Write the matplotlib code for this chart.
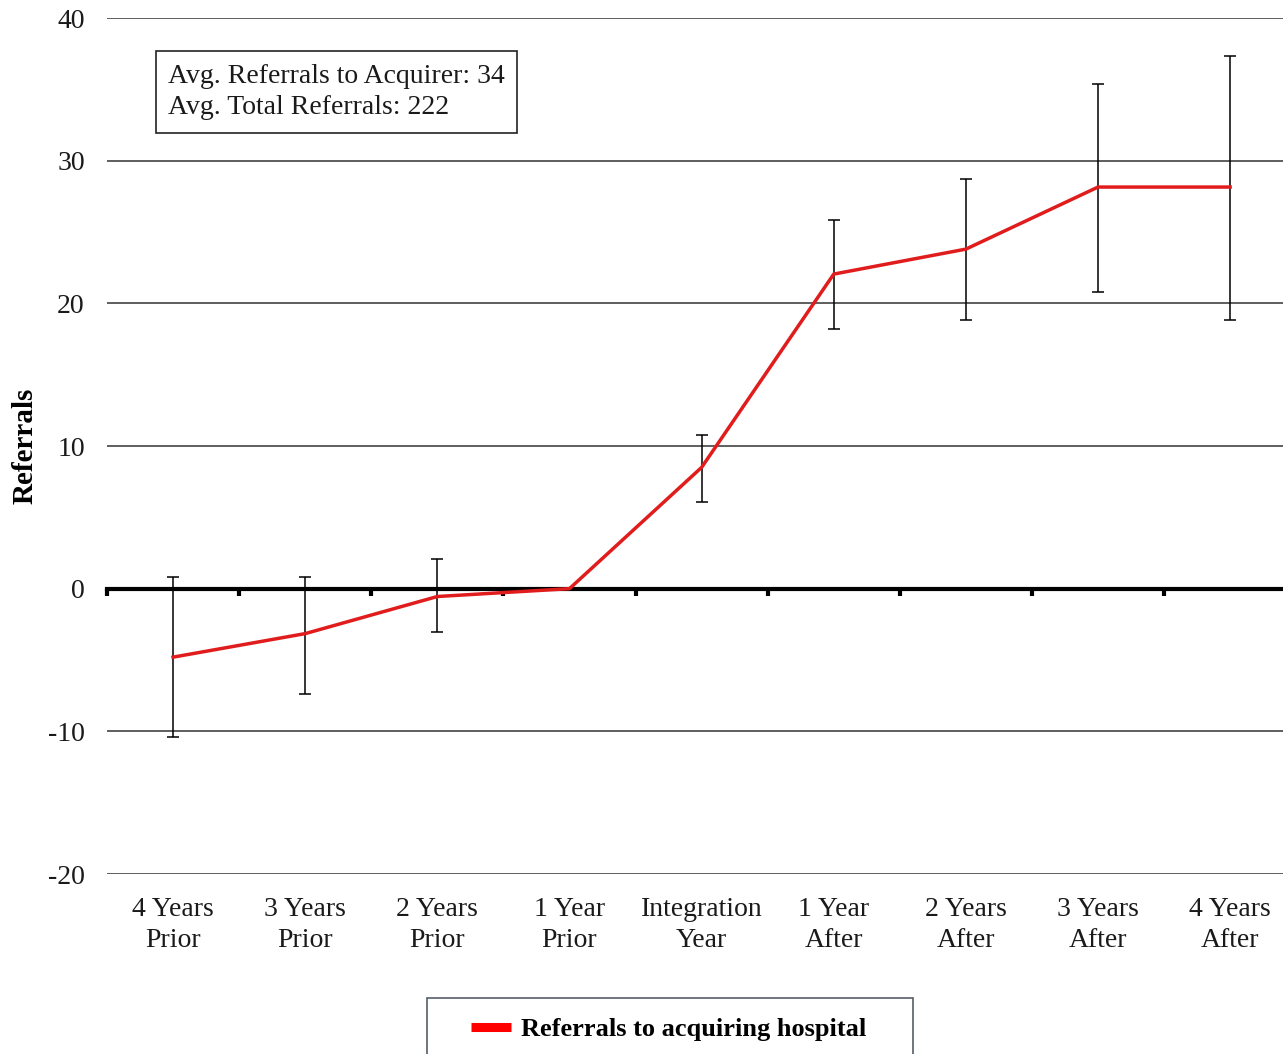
import numpy as np
import matplotlib.pyplot as plt
from matplotlib.lines import Line2D
from matplotlib.patches import Rectangle

# data
periods = ['4 Years\nPrior', '3 Years\nPrior', '2 Years\nPrior', '1 Year\nPrior',
           'Integration\nYear', '1 Year\nAfter', '2 Years\nAfter', '3 Years\nAfter',
           '4 Years\nAfter']
referrals = [-4.8, -3.15, -0.55, 0.0, 8.5, 22.05, 23.8, 28.15, 28.15]
err_low = [-10.4, -7.35, -3.05, 0.0, 6.1, 18.2, 18.85, 20.8, 18.85]
err_high = [0.85, 0.85, 2.05, 0.0, 10.8, 25.85, 28.7, 35.4, 37.35]
note_lines = ['Avg. Referrals to Acquirer: 34', 'Avg. Total Referrals: 222']
y_ticks = [-20, -10, 0, 10, 20, 30, 40]

plt.rcParams['font.family'] = ['Liberation Serif', 'DejaVu Serif']
plt.rcParams['axes.unicode_minus'] = False

fig = plt.figure(figsize=(12.83, 10.54), dpi=100)
ax = fig.add_axes([107 / 1283, 180 / 1054, 1 - 107 / 1283, 856 / 1054])

x = np.arange(len(periods))
ref = np.array(referrals)
lo = ref - np.array(err_low)
hi = np.array(err_high) - ref

ax.set_ylim(-20, 40)
ax.set_xlim(-0.5, 8.4)

# gridlines (not at 0, the axis covers that)
for v in y_ticks:
    if v != 0:
        ax.axhline(v, color='#333333', lw=1.1, zorder=1)

ax.errorbar(x, ref, yerr=[lo, hi], fmt='none', ecolor='black', elinewidth=1.1,
            capsize=4, capthick=1.1, zorder=3)
ax.plot(x, ref, color='#e01c1c', lw=2.5, zorder=4, solid_joinstyle='round')

# x axis sits at zero, with ticks at category boundaries
for s in ['top', 'right', 'left']:
    ax.spines[s].set_visible(False)
ax.spines['bottom'].set_position(('data', 0))
ax.spines['bottom'].set_linewidth(3)
ax.spines['bottom'].set_zorder(2)
ax.set_xticks(np.arange(-0.5, 8.5, 1.0))
ax.tick_params(axis='x', direction='out', length=5, width=3, labelbottom=False)

ax.set_yticks(y_ticks)
ax.tick_params(axis='y', length=0, pad=16, labelsize=20, colors='#1a1a1a')
ax.set_ylabel('Referrals', fontsize=21, fontweight='bold', va='center')
ax.yaxis.set_label_coords((25 - 107) / 1176, 0.5)

for i, lab in enumerate(periods):
    ax.text(i, -23 / 856, lab, transform=ax.get_xaxis_transform(), ha='center',
            va='top', fontsize=20, linespacing=1.32, color='#1a1a1a')

ax.text(0.0519, (874 - 92) / 856, '\n'.join(note_lines), transform=ax.transAxes,
        fontsize=20, va='center', ha='left', linespacing=1.35, color='#1a1a1a',
        bbox=dict(boxstyle='square,pad=0.45', fc='white', ec='#222222', lw=1.2))

# legend: frame drawn separately so the entry sits centred in a wide box
fig.patches.append(Rectangle((427 / 1283, -0.02), 486 / 1283, 56 / 1054 + 0.02,
                             transform=fig.transFigure, fill=False,
                             ec='#555d66', lw=1.2))
handle = Line2D([0], [0], color='#ff0000', lw=6.5, solid_capstyle='butt')
fig.legend([handle], ['Referrals to acquiring hospital'], loc='center left',
           bbox_to_anchor=(471 / 1283, 1 - 1029 / 1054), frameon=False,
           handlelength=1.5, handletextpad=0.4, borderpad=0, borderaxespad=0,
           prop={'family': 'Liberation Serif', 'weight': 'bold', 'size': 19})

fig.savefig('out.png', dpi=100)
